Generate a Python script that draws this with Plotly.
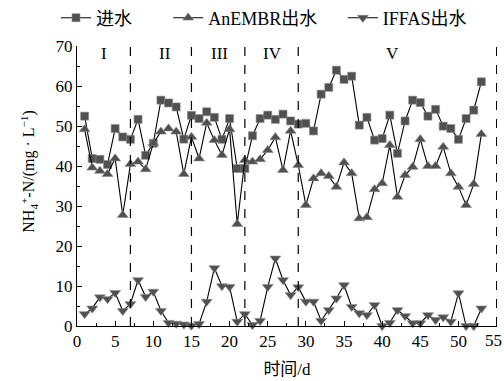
import plotly.graph_objects as go

# Operating days
days = list(range(1, 54))

# NH4+-N concentrations (mg/L)
influent = [52.5, 41.9, 41.7, 40.4, 49.4, 47.3, 46.7, 51.7, 42.7, 45.7,
            56.5, 55.8, 54.8, 46.75, 52.7, 51.9, 53.6, 52.2, 46.7, 51.9,
            39.4, 39.4, 47.6, 51.9, 52.75, 51.7, 53.0, 51.3, 50.5, 50.7,
            48.8, 58.0, 59.7, 64.0, 61.7, 62.5, 50.25, 52.2, 46.5, 46.9,
            52.75, 43.2, 51.3, 56.5, 55.9, 52.5, 54.2, 50.0, 49.4, 46.7,
            51.9, 54.0, 61.1]
anembr = [49.2, 39.6, 38.8, 38.0, 41.9, 27.75, 40.5, 41.1, 39.2, 45.7,
          48.6, 49.4, 48.6, 38.0, 47.3, 41.9, 50.8, 46.5, 42.75, 49.2,
          25.5, 41.5, 41.1, 41.7, 44.0, 47.2, 39.0, 48.8, 40.25, 30.25,
          36.9, 38.2, 37.5, 34.8, 40.9, 38.2, 26.9, 27.2, 34.2, 35.7,
          45.25, 32.3, 37.75, 39.8, 46.7, 40.0, 40.0, 44.8, 38.2, 34.8,
          30.25, 35.5, 48.0]
iffas = [3.0, 4.4, 7.2, 6.75, 8.3, 3.8, 5.5, 11.5, 7.3, 8.6,
         3.8, 0.8, 0.6, 0.4, 0.1, 0.5, 6.1, 14.5, 10.0, 9.8,
         1.1, 3.0, 0.25, 1.3, 9.8, 16.9, 11.5, 7.75, 9.7, 6.1,
         6.1, 1.3, 4.0, 6.9, 10.25, 4.8, 3.2, 2.75, 5.25, 0.0,
         0.8, 4.0, 2.5, 0.7, 0.7, 2.75, 1.5, 2.2, 1.1, 8.2,
         0.0, 0.0, 4.4]

series_names = ["进水", "AnEMBR出水", "IFFAS出水"]
series_symbols = ["square", "triangle-up", "triangle-down"]
legend_ids = ["legend", "legend2", "legend3"]
legend_x = [-0.05, 0.217, 0.633]

# Operating phases
phase_bounds = [7, 15, 22, 29, 55]
phase_labels = ["I", "II", "III", "IV", "V"]
phase_label_x = [3.5, 11.5, 18.7, 25.6, 41.3]
phase_label_y = 68.3

x_ticks = list(range(0, 56, 5))
y_ticks = list(range(0, 71, 10))
# the last x label sits on the window edge, so it is drawn as an annotation
x_ticktext = [str(v) for v in x_ticks[:-1]] + [""]
x_edge_label = x_ticks[-1]

FONT = "Liberation Serif, Times New Roman, Noto Sans CJK SC, serif"
MARKER_FILL = "#505050"

fig = go.Figure()
for name, values, sym, lid in zip(series_names, [influent, anembr, iffas],
                                  series_symbols, legend_ids):
    fig.add_trace(go.Scatter(
        x=days, y=values, name=name, mode="lines+markers", legend=lid,
        line=dict(color="black", width=1.1),
        marker=dict(symbol=sym, size=8 if sym == "square" else 9.5,
                    color=MARKER_FILL, line=dict(color="#8a8a8a", width=0.6)),
        cliponaxis=False,
    ))

for xb in phase_bounds:
    fig.add_shape(type="line", xref="x", yref="y", x0=xb, x1=xb, y0=0, y1=70,
                  line=dict(color="black", width=1.2, dash="dash"))

for lab, lx in zip(phase_labels, phase_label_x):
    fig.add_annotation(x=lx, y=phase_label_y, text=lab, showarrow=False,
                       font=dict(family=FONT, size=17, color="black"))

fig.add_annotation(xref="x", yref="paper", x=x_edge_label, y=0, xanchor="right",
                   xshift=7, yanchor="top", yshift=-3, text=str(x_edge_label),
                   showarrow=False, font=dict(family=FONT, size=17, color="black"))

# y-axis title placed as a rotated annotation
fig.add_annotation(xref="paper", yref="paper", x=-0.115, y=0.55, xanchor="center",
                   yanchor="middle", textangle=-90, showarrow=False,
                   text="NH<sub>4</sub><sup>+</sup>-N/(mg · L<sup>−1</sup>)",
                   font=dict(family=FONT, size=16, color="black"))

legend_style = dict(orientation="h", xanchor="left", y=1.1, yanchor="middle",
                    font=dict(family=FONT, size=18), itemwidth=30,
                    bgcolor="rgba(0,0,0,0)")

fig.update_layout(
    width=504, height=381,
    margin=dict(l=77, r=7, t=46, b=55, autoexpand=False),
    paper_bgcolor="white", plot_bgcolor="white",
    font=dict(family=FONT, size=16, color="black"),
    showlegend=True,
    legend=dict(x=legend_x[0], **legend_style),
    legend2=dict(x=legend_x[1], **legend_style),
    legend3=dict(x=legend_x[2], **legend_style),
    xaxis=dict(range=[0, 55.05], tickvals=x_ticks, ticktext=x_ticktext,
               showline=True, linecolor="black",
               linewidth=1, ticks="inside", ticklen=5, tickcolor="black",
               showgrid=False, zeroline=False, automargin=False,
               minor=dict(dtick=2.5, tick0=0, ticks="inside", ticklen=3, tickcolor="black"),
               title=dict(text="时间/d", font=dict(family=FONT, size=17), standoff=12),
               tickfont=dict(family=FONT, size=17)),
    yaxis=dict(range=[0, 70.05], tickvals=y_ticks, showline=True, linecolor="black",
               linewidth=1, ticks="inside", ticklen=5, tickcolor="black",
               showgrid=False, zeroline=False, automargin=False,
               minor=dict(dtick=5, tick0=0, ticks="inside", ticklen=3, tickcolor="black"),
               tickfont=dict(family=FONT, size=17)),
)

fig.write_html("out.html")
